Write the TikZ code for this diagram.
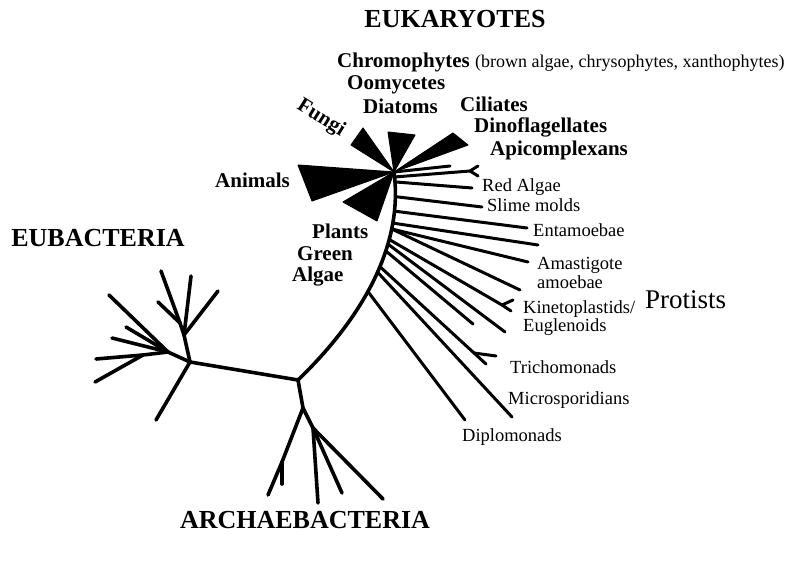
\documentclass[tikz,border=0pt]{standalone}
\usepackage{fontspec}
\setmainfont{Liberation Serif}
\usetikzlibrary{arrows.meta, positioning, calc}
\tikzset{
  branch/.style={
    draw,
    line width=3.6pt,
    line cap=round,
    line join=round
  },
  twig/.style={
    draw,
    line width=3pt,
    line cap=round,
    line join=round
  },
  fan/.style={
    fill=black,
    draw=black,
    line width=1pt,
    line join=round
  },
  kingdom/.style={
    font=\fontsize{26}{26}\selectfont\bfseries,
    inner sep=0pt
  },
  group/.style={
    anchor=west,
    font=\fontsize{21}{22}\selectfont\bfseries,
    inner sep=0pt
  },
  taxon/.style={
    anchor=west,
    align=left,
    font=\fontsize{18.5}{18.5}\selectfont,
    inner sep=0pt
  }
}

\begin{document}
\begin{tikzpicture}[x=1pt, y=-1pt]
  \useasboundingbox (0,0) rectangle (799,561);

  \coordinate (root) at (298,380);
  \coordinate (hub) at (394,172);
  \foreach \n/\x/\y in {eu1/190/362, eu2/184/335, eu3/168/352, eu4/180/323, eu5/143/355,
      eut1/161/271, eut2/191/276, eut3/218/291, eut4/158/302, eut5/109/295,
      eut6/126/327, eut7/112/338, eut8/96/359, eut9/95/382, eut10/156/420,
      ar1/303/408, ar2/313/428, ar3/282/462,
      art1/268/495, art2/282/484, art3/318/503, art4/342/493, art5/383/499}
    \coordinate (\n) at (\x,\y);
  \foreach \n/\x/\y in {up1/450/166, fk/470/171, fk1/478/166, fk2/478/176,
      ra/472/188, sm/482/207, p1/527/228, p2/538/245, p3/528/262, p4/520/290,
      kf/502/305, p5/511/311, kf1/513/300, p6/505/332, p7/473/324,
      tf/474/353, p8/486/364, tf1/496/356, p9/512/417, p10/465/420}
    \coordinate (\n) at (\x,\y);

  \fill[fan] (hub) -- (298,165) -- (312,201) -- cycle;
  \fill[fan] (hub) -- (343,202) -- (377,221) -- cycle;
  \fill[fan] (hub) -- (363,128) -- (351,145) -- cycle;
  \fill[fan] (hub) -- (388,132) -- (415,135) -- cycle;
  \fill[fan] (hub) -- (453,133) -- (468,145) -- cycle;

  \draw[branch] (root) .. controls (350,330) and (405,255) .. (hub)
    coordinate[pos=0.98] (s1) coordinate[pos=0.96] (s2) coordinate[pos=0.90] (s3)
    coordinate[pos=0.84] (s4) coordinate[pos=0.79] (s5) coordinate[pos=0.765] (s6)
    coordinate[pos=0.72] (s7) coordinate[pos=0.70] (s8) coordinate[pos=0.67] (s9)
    coordinate[pos=0.60] (s10) coordinate[pos=0.575] (s11) coordinate[pos=0.485] (s12);

  \foreach \a/\b in {root/eu1, eu1/eu2, eu2/eu4, eu4/eut1, eu4/eut4, eu2/eut2, eu2/eut3,
      eu1/eu3, eu3/eut5, eu3/eut6, eu3/eut7, eu3/eu5, eu5/eut8, eu5/eut9, eu1/eut10,
      root/ar1, ar1/ar3, ar3/art1, ar3/art2, ar1/ar2, ar2/art3, ar2/art4, ar2/art5}
    \draw[branch] (\a) -- (\b);
  \foreach \a/\b in {hub/up1, s1/fk, fk/fk1, fk/fk2, s2/ra, s3/sm, s4/p1, s5/p2, s6/p3, s6/p4,
      s7/kf, kf/p5, kf/kf1, s8/p6, s9/p7, s10/tf, tf/p8, tf/tf1, s11/p9, s12/p10}
    \draw[twig] (\a) -- (\b);

  \node[kingdom] (euk) at (455,19) {EUKARYOTES};
  \node[kingdom] (eub) at (98,238) {EUBACTERIA};
  \node[kingdom] (arc) at (305,520) {ARCHAEBACTERIA};

  \node[group] (chromo) at (337,62) {Chromophytes {\mdseries\fontsize{18}{18}\selectfont (brown algae, chrysophytes, xanthophytes)}};
  \node[group] (oomy) at (347,85) {Oomycetes};
  \node[group] (diat) at (363,106) {Diatoms};
  \node[group] (cili) at (460,104) {Ciliates};
  \node[group] (dino) at (474,127) {Dinoflagellates};
  \node[group] (apic) at (490,150) {Apicomplexans};
  \node[group, anchor=center, rotate=-32] (fungi) at (321,118) {Fungi};
  \node[group] (anim) at (215,180) {Animals};
  \node[group] (plant) at (312,231) {Plants};
  \node[group] (green) at (297,254) {Green};
  \node[group] (algae) at (292,277) {Algae};

  \node[taxon] (redal) at (482,187) {Red Algae};
  \node[taxon] (slime) at (487,205) {Slime molds};
  \node[taxon] (entam) at (533,230) {Entamoebae};
  \node[taxon] (amast) at (537,273) {Amastigote\\amoebae};
  \node[taxon] (kinet) at (523,318) {Kinetoplastids/\\Euglenoids};
  \node[taxon] (trich) at (510,367) {Trichomonads};
  \node[taxon] (micro) at (508,400) {Microsporidians};
  \node[taxon] (diplo) at (462,437) {Diplomonads};
  \node[taxon, font=\fontsize{27}{27}\selectfont] (prot) at (645,300) {Protists};
\end{tikzpicture}
\end{document}
